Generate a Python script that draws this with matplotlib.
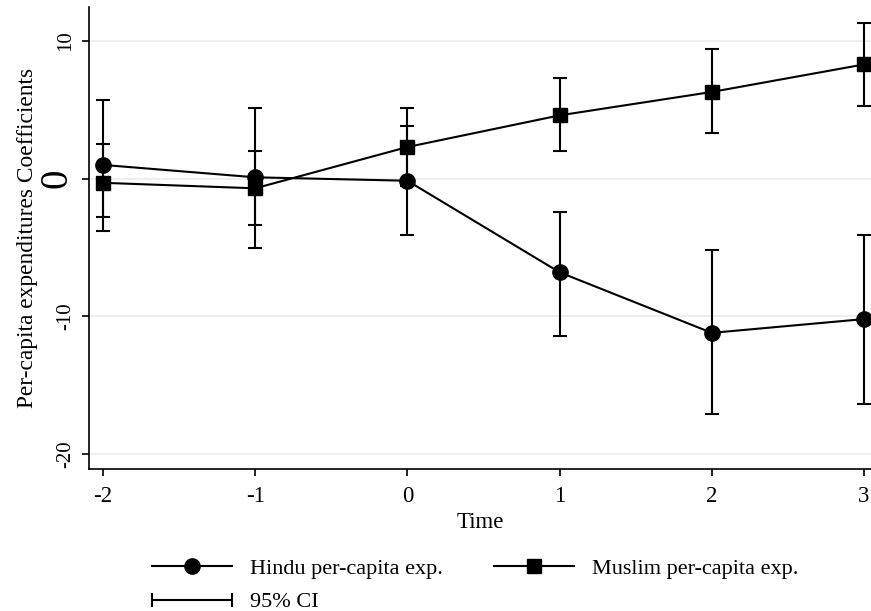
import matplotlib
matplotlib.use("Agg")
import matplotlib.pyplot as plt
from matplotlib.lines import Line2D
from matplotlib.legend_handler import HandlerLine2D
import numpy as np

plt.rcParams['font.family'] = ['Liberation Serif', 'DejaVu Serif']

time = [-2, -1, 0, 1, 2, 3]

hindu = [1.0, 0.1, -0.15, -6.8, -11.2, -10.2]
hindu_lo = [-3.8, -5.0, -4.1, -11.4, -17.1, -16.4]
hindu_hi = [5.7, 5.1, 3.8, -2.4, -5.2, -4.1]

muslim = [-0.3, -0.7, 2.3, 4.6, 6.3, 8.3]
muslim_lo = [-2.8, -3.4, -0.5, 2.0, 3.3, 5.3]
muslim_hi = [2.5, 2.0, 5.1, 7.3, 9.4, 11.3]

yticks = [-20, -10, 0, 10]


def err(mid, lo, hi):
    mid = np.array(mid)
    return [mid - np.array(lo), np.array(hi) - mid]


fig = plt.figure(figsize=(8.71, 6.11), dpi=100)
ax = fig.add_axes([0.1025, 0.2324, 0.8975, 0.7561])

ax.errorbar(time, hindu, yerr=err(hindu, hindu_lo, hindu_hi), fmt='none',
            ecolor='black', elinewidth=1.5, capsize=5, capthick=1.5)
ax.errorbar(time, muslim, yerr=err(muslim, muslim_lo, muslim_hi), fmt='none',
            ecolor='black', elinewidth=1.5, capsize=5, capthick=1.5)
ax.plot(time, hindu, color='black', lw=1.5, marker='o', markersize=11)
ax.plot(time, muslim, color='black', lw=1.5, marker='s', markersize=10.5)

ax.set_xlim(-2.09, 3.046)
ax.set_ylim(-21.09, 12.47)
ax.set_xticks(time)
ax.set_xticklabels([str(t) for t in time], fontsize=16.5)
ax.set_yticks(yticks)
ax.set_yticklabels([str(t) for t in yticks], fontsize=15, rotation=90, va='center')
for lab in ax.get_yticklabels():
    if lab.get_text() == '0':
        lab.set_fontsize(28)

ax.grid(axis='y', color='#ececec', lw=1.2)
ax.set_axisbelow(True)
for s in ['top', 'right']:
    ax.spines[s].set_visible(False)
for s in ['left', 'bottom']:
    ax.spines[s].set_linewidth(1.2)
ax.tick_params(direction='out', length=5, width=1.2, color='black')
ax.tick_params(axis='x', pad=7)
ax.tick_params(axis='y', pad=5)

ax.set_xlabel('Time', fontsize=16.5, labelpad=4)
ax.set_ylabel('Per-capita expenditures Coefficients', fontsize=16.8, labelpad=0)

h_hindu = Line2D([], [], color='black', lw=1.5, marker='o', markersize=11)
h_muslim = Line2D([], [], color='black', lw=1.5, marker='s', markersize=10.5)
h_ci = Line2D([], [], color='black', lw=1.5, marker='|', markersize=10, markeredgewidth=1.5)

fig.legend([h_hindu, h_ci, h_muslim], ['Hindu per-capita exp.', '95% CI', 'Muslim per-capita exp.'],
           ncol=2, loc='upper left', bbox_to_anchor=(0.1745, 0.0868), frameon=False,
           fontsize=16, handlelength=3.6, handletextpad=0.8, columnspacing=2.3,
           labelspacing=0.6, borderpad=0, borderaxespad=0, numpoints=1,
           handler_map={h_ci: HandlerLine2D(numpoints=2, marker_pad=0)})

fig.savefig('out.png', dpi=100)
